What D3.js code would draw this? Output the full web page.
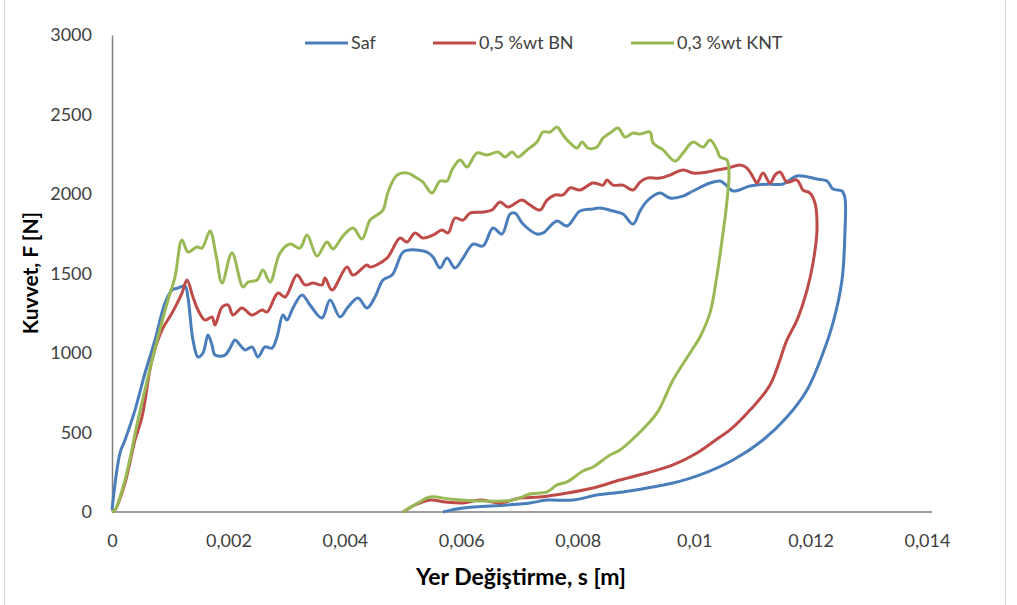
<!DOCTYPE html>
<html>
<head>
<meta charset="utf-8">
<script src="https://cdn.jsdelivr.net/npm/d3@7"></script>
<style>
  body { margin: 0; background: #fff; }
  svg { display: block; }
  text { font-family: Lato, "Open Sans", sans-serif; }
</style>
</head>
<body>
<svg id="chart" width="1017" height="605"></svg>
<script>
// Yer degistirme [m], Kuvvet [N]
const seriesNames = ['Saf', '0,5 %wt BN', '0,3 %wt KNT'];
const seriesColors = ['#4a7ebb', '#be4b48', '#98b954'];

const saf = [
  [0, 13], [0.000137, 371], [0.000223, 453], [0.000395, 641], [0.000567, 874], [0.000739, 1082],
  [0.00091, 1314], [0.001031, 1396], [0.001134, 1409], [0.001254, 1421], [0.001306, 1346],
  [0.001391, 1082], [0.001477, 975], [0.001563, 1000], [0.001649, 1113], [0.001718, 1050],
  [0.001769, 987], [0.001941, 987], [0.002027, 1031], [0.002113, 1082], [0.002199, 1050],
  [0.002285, 1019], [0.002405, 1038], [0.002508, 975], [0.002628, 1038], [0.002748, 1031],
  [0.002834, 1101], [0.002937, 1239], [0.003006, 1207], [0.003109, 1283], [0.003264, 1365],
  [0.003401, 1302], [0.003607, 1220], [0.003745, 1333], [0.003917, 1226], [0.004054, 1289],
  [0.004226, 1346], [0.00438, 1283], [0.004518, 1352], [0.004655, 1459], [0.00481, 1490],
  [0.004999, 1635], [0.005119, 1648], [0.005411, 1635], [0.005514, 1604], [0.005634, 1535],
  [0.005755, 1597], [0.005892, 1535], [0.006029, 1597], [0.006201, 1685], [0.006373, 1673],
  [0.006545, 1786], [0.006699, 1748], [0.006837, 1874], [0.006923, 1880], [0.00706, 1811],
  [0.007301, 1748], [0.007404, 1755], [0.007644, 1830], [0.007816, 1799], [0.008039, 1893],
  [0.008263, 1906], [0.008383, 1912], [0.008606, 1893], [0.008778, 1874], [0.00895, 1811],
  [0.00907, 1893], [0.00919, 1956], [0.009414, 2006], [0.009585, 1975], [0.009809, 1987],
  [0.00998, 2019], [0.010272, 2069], [0.010444, 2082], [0.01053, 2062], [0.010668, 2019],
  [0.01096, 2050], [0.011252, 2062], [0.011526, 2062], [0.011767, 2113], [0.01211, 2094],
  [0.012282, 2082], [0.012385, 2031], [0.01254, 2019], [0.012591, 1975], [0.012591, 1767],
  [0.01254, 1459], [0.012385, 1189], [0.012214, 1000], [0.011939, 767], [0.011595, 597],
  [0.011183, 453], [0.010668, 327], [0.010101, 233], [0.009637, 182], [0.00919, 151],
  [0.008778, 126], [0.008331, 107], [0.007919, 75], [0.007472, 75], [0.00718, 57],
  [0.006785, 44], [0.006029, 25], [0.005686, 0]
];

const bn = [
  [0, 0], [0.0000515, 13], [0.000223, 182], [0.000395, 453], [0.000515, 597], [0.000687, 956],
  [0.000859, 1145], [0.001031, 1252], [0.001202, 1377], [0.001288, 1459], [0.001391, 1352],
  [0.001477, 1270], [0.001598, 1207], [0.001718, 1226], [0.001769, 1176], [0.00189, 1289],
  [0.001993, 1302], [0.002079, 1239], [0.002233, 1283], [0.002405, 1239], [0.002577, 1270],
  [0.002663, 1258], [0.002852, 1377], [0.002972, 1352], [0.003178, 1490], [0.003315, 1428],
  [0.003453, 1440], [0.003607, 1428], [0.003659, 1472], [0.003779, 1396], [0.004037, 1541],
  [0.00414, 1490], [0.00438, 1553], [0.004432, 1541], [0.004724, 1597], [0.004947, 1723],
  [0.005068, 1698], [0.005205, 1755], [0.005342, 1723], [0.005514, 1742], [0.005669, 1773],
  [0.005772, 1755], [0.005892, 1849], [0.006029, 1836], [0.00615, 1880], [0.006373, 1887],
  [0.006528, 1899], [0.006665, 1950], [0.006802, 1918], [0.007043, 1962], [0.00718, 1931],
  [0.007352, 1899], [0.007472, 1962], [0.00761, 1994], [0.007747, 1994], [0.007868, 2038],
  [0.008039, 2025], [0.008263, 2069], [0.008434, 2056], [0.008503, 2088], [0.008606, 2056],
  [0.008778, 2056], [0.00895, 2025], [0.00907, 2075], [0.00919, 2100], [0.009414, 2100],
  [0.009585, 2119], [0.009809, 2151], [0.00998, 2132], [0.010221, 2138], [0.010393, 2151],
  [0.010582, 2163], [0.010788, 2182], [0.010908, 2163], [0.011011, 2107], [0.01108, 2069],
  [0.011183, 2132], [0.011303, 2069], [0.011389, 2119], [0.011475, 2138], [0.011595, 2075],
  [0.011767, 2088], [0.01187, 2025], [0.01199, 2006], [0.012076, 1943], [0.01211, 1773],
  [0.012042, 1566], [0.011939, 1396], [0.011767, 1207], [0.011595, 1082], [0.011303, 799],
  [0.01096, 641], [0.010616, 516], [0.010444, 472], [0.010049, 371], [0.009637, 296],
  [0.00919, 245], [0.008726, 201], [0.008263, 151], [0.007816, 119], [0.007352, 94],
  [0.007009, 88], [0.006665, 57], [0.006322, 75], [0.006029, 57], [0.00572, 63],
  [0.005463, 75], [0.005205, 44], [0.004999, 0]
];

const knt = [
  [0, 0], [0.0000515, 13], [0.000223, 201], [0.000447, 579], [0.000618, 849], [0.00079, 1101],
  [0.000962, 1333], [0.001082, 1478], [0.001202, 1711], [0.001306, 1635], [0.00146, 1667],
  [0.001546, 1660], [0.001683, 1767], [0.001787, 1616], [0.00189, 1440], [0.002061, 1629],
  [0.00225, 1415], [0.002336, 1446], [0.002491, 1459], [0.002594, 1522], [0.002714, 1446],
  [0.002886, 1629], [0.003058, 1685], [0.003229, 1660], [0.00335, 1742], [0.003521, 1610],
  [0.003693, 1698], [0.003796, 1654], [0.003968, 1736], [0.00414, 1786], [0.004295, 1717],
  [0.004432, 1836], [0.004552, 1868], [0.004655, 1899], [0.004741, 2012], [0.004896, 2119],
  [0.005068, 2132], [0.005239, 2100], [0.005342, 2075], [0.005497, 2006], [0.005634, 2082],
  [0.005755, 2082], [0.00584, 2151], [0.005978, 2214], [0.006098, 2170], [0.00627, 2258],
  [0.006442, 2245], [0.006631, 2264], [0.006751, 2233], [0.006871, 2264], [0.006974, 2233],
  [0.007129, 2277], [0.007301, 2327], [0.007404, 2390], [0.007524, 2390], [0.007644, 2421],
  [0.007747, 2371], [0.007868, 2321], [0.007988, 2289], [0.008074, 2327], [0.008177, 2289],
  [0.008331, 2295], [0.008434, 2352], [0.008555, 2384], [0.008692, 2415], [0.008812, 2358],
  [0.00895, 2384], [0.00907, 2377], [0.009242, 2390], [0.009293, 2321], [0.009465, 2277],
  [0.009671, 2207], [0.009809, 2258], [0.00998, 2327], [0.010152, 2295], [0.010272, 2339],
  [0.010393, 2277], [0.010444, 2233], [0.010564, 2214], [0.010599, 2119], [0.010582, 2025],
  [0.010547, 1899], [0.010496, 1755], [0.010393, 1490], [0.010272, 1252], [0.010101, 1101],
  [0.009929, 1000], [0.009637, 830], [0.009362, 623], [0.00907, 503], [0.008726, 390],
  [0.008555, 358], [0.008263, 283], [0.008091, 258], [0.007816, 189], [0.007644, 170],
  [0.007472, 126], [0.00718, 113], [0.006888, 75], [0.006322, 69], [0.005806, 82],
  [0.005463, 94], [0.005256, 57], [0.004999, 0]
];

const xTicks = [0, 0.002, 0.004, 0.006, 0.008, 0.01, 0.012, 0.014];
const yTicks = [0, 500, 1000, 1500, 2000, 2500, 3000];

const svg = d3.select('#chart');

// outer chart frame (Excel style)
svg.append('rect')
  .attr('x', 4.5).attr('y', -5)
  .attr('width', 1001).attr('height', 620)
  .attr('fill', 'none')
  .attr('stroke', '#d9d9d9');

const x = d3.scaleLinear().domain([0, 0.014]).range([112, 927]);
const y = d3.scaleLinear().domain([0, 3000]).range([512, 35]);

const fmt = d => String(d).replace('.', ',');

// axes
const xAxis = svg.append('g')
  .attr('transform', `translate(0, ${y(0)})`)
  .call(d3.axisBottom(x).tickValues(xTicks).tickFormat(fmt).tickSize(0).tickPadding(22));
xAxis.select('.domain').attr('stroke', '#7f7f7f').attr('stroke-width', 1.5)
  .attr('d', `M${x(0)},0H932`);

const yAxis = svg.append('g')
  .attr('transform', `translate(${x(0)}, 0)`)
  .call(d3.axisLeft(y).tickValues(yTicks).tickFormat(d => String(d)).tickSize(0).tickPadding(20));
yAxis.select('.domain').attr('stroke', '#7f7f7f').attr('stroke-width', 1.5);

svg.selectAll('.tick text')
  .attr('font-family', 'Lato, sans-serif')
  .attr('font-size', 18)
  .attr('fill', '#404040');

// axis titles
svg.append('text')
  .attr('x', 521).attr('y', 585)
  .attr('text-anchor', 'middle')
  .attr('font-size', 23)
  .attr('font-weight', 'bold')
  .attr('fill', '#000')
  .text('Yer Değiştirme, s [m]');

svg.append('text')
  .attr('transform', 'translate(38, 273) rotate(-90)')
  .attr('text-anchor', 'middle')
  .attr('font-size', 21)
  .attr('font-weight', 'bold')
  .attr('fill', '#000')
  .text('Kuvvet, F [N]');

// curves (smoothed like the original spreadsheet lines)
const line = d3.line()
  .x(d => x(d[0]))
  .y(d => y(d[1]))
  .curve(d3.curveCatmullRom.alpha(0.5));

const allSeries = [saf, bn, knt];
svg.append('g')
  .selectAll('path')
  .data(allSeries)
  .join('path')
  .attr('d', line)
  .attr('fill', 'none')
  .attr('stroke', (d, i) => seriesColors[i])
  .attr('stroke-width', 3)
  .attr('stroke-linejoin', 'round');

// legend
const legendX = [305, 433, 631];
const legend = svg.append('g').attr('class', 'legend');
const items = legend.selectAll('g')
  .data(seriesNames)
  .join('g')
  .attr('transform', (d, i) => `translate(${legendX[i]}, 43)`);

items.append('line')
  .attr('x1', 0).attr('x2', 43)
  .attr('stroke', (d, i) => seriesColors[i])
  .attr('stroke-width', 3);

items.append('text')
  .attr('x', 46)
  .attr('dy', '0.35em')
  .attr('font-size', 18)
  .attr('fill', '#404040')
  .text(d => d);
</script>
</body>
</html>
